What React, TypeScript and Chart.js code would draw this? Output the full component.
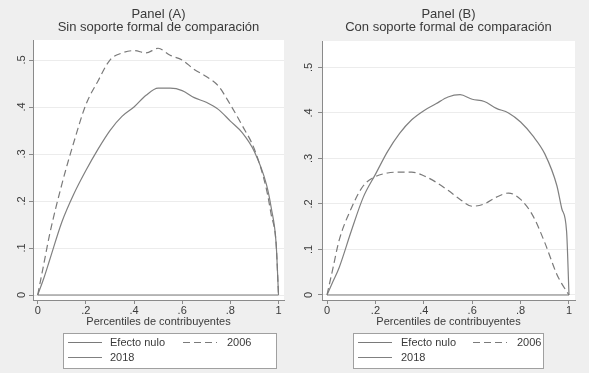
import React, { useEffect, useRef } from 'react';
import { Chart, registerables } from 'chart.js';

Chart.register(...registerables);

// ---- data ----
const pct = [0, 0.025, 0.05, 0.1, 0.15, 0.2, 0.25, 0.3, 0.35, 0.4, 0.45, 0.5, 0.55, 0.6, 0.65, 0.7, 0.75, 0.8, 0.85, 0.9, 0.95, 0.97, 0.99, 1];

const panelA2018 = [0, 0.035, 0.075, 0.155, 0.215, 0.265, 0.31, 0.35, 0.38, 0.4, 0.425, 0.44, 0.44, 0.435, 0.42, 0.41, 0.395, 0.37, 0.345, 0.305, 0.235, 0.185, 0.11, 0];
const panelA2006 = [0, 0.065, 0.13, 0.235, 0.325, 0.405, 0.455, 0.5, 0.515, 0.52, 0.515, 0.525, 0.51, 0.5, 0.48, 0.465, 0.445, 0.405, 0.36, 0.31, 0.225, 0.17, 0.11, 0];

const panelB2018 = [0, 0.03, 0.06, 0.14, 0.215, 0.265, 0.315, 0.355, 0.385, 0.405, 0.42, 0.435, 0.44, 0.43, 0.425, 0.41, 0.4, 0.38, 0.35, 0.31, 0.24, 0.19, 0.14, 0];
const panelB2006 = [0, 0.06, 0.12, 0.19, 0.24, 0.26, 0.268, 0.27, 0.27, 0.262, 0.248, 0.23, 0.21, 0.195, 0.2, 0.215, 0.224, 0.21, 0.175, 0.115, 0.045, 0.025, 0.008, 0];

const nullX = [0, 1];
const nullY = [0, 0];

const xTickValues = [0, 0.2, 0.4, 0.6, 0.8, 1];
const xTickLabels = ['0', '.2', '.4', '.6', '.8', '1'];
const yTickValues = [0, 0.1, 0.2, 0.3, 0.4, 0.5];
const yTickLabels = ['0', '.1', '.2', '.3', '.4', '.5'];

const titleA = ['Panel (A)', 'Sin soporte formal de comparación'];
const titleB = ['Panel (B)', 'Con soporte formal de comparación'];
const xAxisTitle = 'Percentiles de contribuyentes';
const legendLabels = ['Efecto nulo', '2006', '2018'];

// ---- styles ----
const FONT = '"Liberation Sans", Arial, sans-serif';
const TEXT = '#3a3a3a';
const AXIS = '#8a8a8a';
const GRID = '#ececec';
const LINE_NULL = '#7a7a7a';
const LINE_2006 = '#7a7a7a';
const LINE_2018 = '#808080';
const DASH = [7, 4];

type PanelCfg = {
  left: number;
  width: number;
  title: string[];
  s2006: number[];
  s2018: number[];
  yAxisWidth: number;
  padRight: number;
  padTop: number;
  xMin: number;
  xMax: number;
  yMin: number;
  yMax: number;
  yPad: number;
  legend: { x0: number; x1: number; y0: number; y1: number; l1: number; t1: number; l2: number; t2: number };
};

const H = 373;

function Panel({ cfg }: { cfg: PanelCfg }) {
  const ref = useRef<HTMLCanvasElement>(null);
  useEffect(() => {
    const canvas = ref.current!;
    const pts = (xs: number[], ys: number[]) => xs.map((x, i) => ({ x, y: ys[i] }));
    const deco = {
      id: 'deco',
      beforeDraw(chart: any) {
        const { ctx, chartArea: a } = chart;
        ctx.save();
        ctx.fillStyle = '#ffffff';
        ctx.fillRect(a.left, a.top, a.right - a.left, a.bottom - a.top);
        ctx.restore();
      },
      afterDraw(chart: any) {
        const { ctx, chartArea: a } = chart;
        ctx.save();
        // title
        ctx.fillStyle = TEXT;
        ctx.font = `13px ${FONT}`;
        ctx.textAlign = 'center';
        ctx.textBaseline = 'middle';
        const cx = (a.left + a.right) / 2;
        ctx.fillText(cfg.title[0], cx, 14);
        ctx.fillText(cfg.title[1], cx, 27.5);
        // legend box
        const L = cfg.legend;
        ctx.fillStyle = '#ffffff';
        ctx.fillRect(L.x0, L.y0, L.x1 - L.x0, L.y1 - L.y0);
        ctx.strokeStyle = '#a0a0a0';
        ctx.lineWidth = 1;
        ctx.strokeRect(L.x0 + 0.5, L.y0 + 0.5, L.x1 - L.x0, L.y1 - L.y0);
        const r1 = L.y0 + 9.5;
        const r2 = L.y0 + 24.5;
        const seg = (x0: number, y: number, color: string, dash: number[]) => {
          ctx.beginPath();
          ctx.setLineDash(dash);
          ctx.strokeStyle = color;
          ctx.lineWidth = 1.2;
          ctx.moveTo(x0, y);
          ctx.lineTo(x0 + 34, y);
          ctx.stroke();
          ctx.setLineDash([]);
        };
        seg(L.l1, r1, LINE_NULL, []);
        seg(L.l2, r1, LINE_2006, DASH);
        seg(L.l1, r2, LINE_2018, []);
        ctx.fillStyle = TEXT;
        ctx.font = `11px ${FONT}`;
        ctx.textAlign = 'left';
        ctx.fillText(legendLabels[0], L.t1, r1);
        ctx.fillText(legendLabels[1], L.t2, r1);
        ctx.fillText(legendLabels[2], L.t1, r2);
        ctx.restore();
      },
    };
    const chart = new Chart(canvas, {
      type: 'line',
      data: {
        datasets: [
          { label: legendLabels[0], data: pts(nullX, nullY), borderColor: LINE_NULL, borderWidth: 1.2 },
          { label: legendLabels[1], data: pts(pct, cfg.s2006), borderColor: LINE_2006, borderWidth: 1.2, borderDash: DASH, cubicInterpolationMode: 'monotone' },
          { label: legendLabels[2], data: pts(pct, cfg.s2018), borderColor: LINE_2018, borderWidth: 1.2, cubicInterpolationMode: 'monotone' },
        ],
      },
      options: {
        animation: false,
        responsive: false,
        devicePixelRatio: 1,
        parsing: false as any,
        elements: { point: { radius: 0 }, line: { tension: 0, fill: false } },
        layout: { padding: { left: 0, top: cfg.padTop, right: cfg.padRight, bottom: H - 329 } },
        plugins: { legend: { display: false }, title: { display: false }, tooltip: { enabled: false } },
        scales: {
          x: {
            type: 'linear',
            min: cfg.xMin,
            max: cfg.xMax,
            afterBuildTicks: (s: any) => { s.ticks = xTickValues.map((v) => ({ value: v })); },
            afterFit: (s: any) => { s.height = 29; },
            ticks: {
              autoSkip: false,
              maxRotation: 0,
              padding: 0,
              color: TEXT,
              font: { family: FONT, size: 11 },
              callback: (_v: any, i: number) => xTickLabels[i],
            },
            grid: { drawOnChartArea: false, drawTicks: true, tickLength: 4, tickColor: AXIS },
            border: { color: AXIS },
            title: { display: true, text: xAxisTitle, color: TEXT, font: { family: FONT, size: 11 }, padding: 0 },
          },
          y: {
            type: 'linear',
            min: cfg.yMin,
            max: cfg.yMax,
            afterBuildTicks: (s: any) => { s.ticks = yTickValues.map((v) => ({ value: v })); },
            afterFit: (s: any) => { s.width = cfg.yAxisWidth; },
            ticks: {
              autoSkip: false,
              minRotation: 90,
              maxRotation: 90,
              crossAlign: 'center',
              padding: cfg.yPad,
              color: TEXT,
              font: { family: FONT, size: 11 },
              callback: (_v: any, i: number) => yTickLabels[i],
            },
            grid: { color: GRID, tickColor: AXIS, tickLength: 4, drawTicks: true },
            border: { color: AXIS },
          },
        },
      },
      plugins: [deco],
    } as any);
    return () => chart.destroy();
  }, [cfg]);
  return (
    <div style={{ position: 'absolute', left: cfg.left, top: 0, width: cfg.width, height: H }}>
      <canvas ref={ref} width={cfg.width} height={H} style={{ display: 'block' }} />
    </div>
  );
}

const cfgA: PanelCfg = {
  left: 0,
  width: 295,
  title: titleA,
  s2006: panelA2006,
  s2018: panelA2018,
  yAxisWidth: 33,
  padRight: 11,
  padTop: 40,
  xMin: -0.0195,
  xMax: 1.0228,
  yMin: -0.0106,
  yMax: 0.5426,
  yPad: 2,
  legend: { x0: 63, x1: 276, y0: 333, y1: 368, l1: 68, t1: 110, l2: 183, t2: 227 },
};

const cfgB: PanelCfg = {
  left: 295,
  width: 294,
  title: titleB,
  s2006: panelB2006,
  s2018: panelB2018,
  yAxisWidth: 27,
  padRight: 14,
  padTop: 41,
  xMin: -0.0207,
  xMax: 1.0248,
  yMin: -0.011,
  yMax: 0.558,
  yPad: 4.5,
  legend: { x0: 58, x1: 248, y0: 333, y1: 368, l1: 63, t1: 106, l2: 178, t2: 222 },
};

export default function App() {
  return (
    <div style={{ position: 'fixed', left: 0, top: 0, width: 589, height: H, background: '#efefef', overflow: 'hidden' }}>
      <Panel cfg={cfgA} />
      <Panel cfg={cfgB} />
    </div>
  );
}
